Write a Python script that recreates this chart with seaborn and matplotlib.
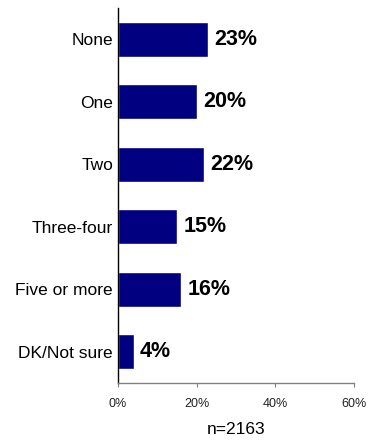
import matplotlib
matplotlib.use("Agg")
import matplotlib.pyplot as plt
import seaborn as sns
import pandas as pd

categories = ["None", "One", "Two", "Three-four", "Five or more", "DK/Not sure"]
values = [23, 20, 22, 15, 16, 4]
x_ticks = [0, 20, 40, 60]
x_tick_labels = ["0%", "20%", "40%", "60%"]
sample_note = "n=2163"

sns.set_theme(style="white")
plt.rcParams["font.family"] = ["Liberation Sans", "DejaVu Sans"]

df = pd.DataFrame({"category": categories, "value": values})

fig = plt.figure(figsize=(3.71, 4.42), dpi=100)
ax = fig.add_axes([0.318, 0.1335, 0.636, 0.8485])

sns.barplot(data=df, x="value", y="category", orient="h", color="#000080",
            saturation=1, width=0.56, ax=ax)

for i, v in enumerate(values):
    ax.annotate(f"{v}%", xy=(v, i), xytext=(4.5, 0), textcoords="offset points",
                ha="left", va="center", fontsize=15.5, fontweight="bold", color="black")

ax.set_xlim(0, 60)
ax.set_ylim(5.5, -0.5)
ax.set_xticks(x_ticks)
ax.set_xticklabels(x_tick_labels, fontsize=9, color="#222222")
ax.set_xlabel(sample_note, fontsize=12.5, labelpad=9, color="black")
ax.set_ylabel("")
ax.tick_params(axis="y", length=0, labelsize=12.5, pad=3.5, labelcolor="black")
ax.tick_params(axis="x", bottom=True, direction="out", length=3, width=0.8,
               color="#808080", pad=7.5)

for side in ["top", "right"]:
    ax.spines[side].set_visible(False)
ax.spines["left"].set_color("black")
ax.spines["left"].set_linewidth(1)
ax.spines["bottom"].set_color("#808080")
ax.spines["bottom"].set_linewidth(1)

fig.savefig("out.png", dpi=100, facecolor="white")
